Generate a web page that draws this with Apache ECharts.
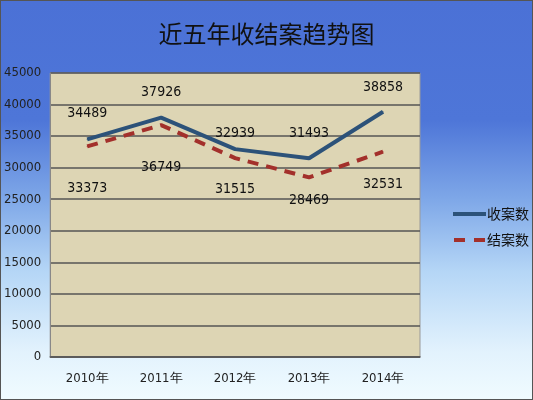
<!DOCTYPE html>
<html>
<head>
<meta charset="UTF-8">
<title>近五年收结案趋势图</title>
<script type="text/javascript" src="https://cdn.jsdelivr.net/npm/echarts@6/dist/echarts.min.js"></script>
<style type="text/css">
	html, body { margin: 0; padding: 0; }
	#main {
		width: 531px; height: 398px;
		border: 1px solid #555;
		background: linear-gradient(to bottom, #4b71d6 0%, #4e76d8 30%, #7fa8e8 50%, #b5d6f6 68%, #e2f2fd 88%, #f0fbff 100%);
	}
</style>
</head>
<body>
<div id="main"></div>
<script type="text/javascript">
	// 数据
	var years = ['2010年', '2011年', '2012年', '2013年', '2014年'];
	var receivedCases = [34489, 37926, 32939, 31493, 38858];   // 收案数
	var closedCases = [33373, 36749, 31515, 28469, 32531];     // 结案数
	var seriesNames = ['收案数', '结案数'];

	// 标签距离（像素）
	var receivedLabelGap = [18, 18, 8, 17, 17];
	var closedLabelGap = [34, 35, 24, 16, 25];

	function buildData(values, gaps) {
		var arr = [];
		for (var i = 0; i < values.length; i++) {
			arr.push({ value: values[i], label: { distance: gaps[i] } });
		}
		return arr;
	}

	var font = "Liberation Sans Narrow, DejaVu Sans Condensed, sans-serif";
	var myChart = echarts.init(document.getElementById('main'));
	var option = {
		animation: false,
		title: {
			text: '近五年收结案趋势图',
			left: 'center',
			top: 16,
			textStyle: { fontFamily: 'Noto Sans CJK SC', fontSize: 24, fontWeight: 'normal', color: '#111' }
		},
		legend: {
			orient: 'vertical',
			left: 447,
			top: 201,
			itemWidth: 33,
			itemHeight: 4,
			itemGap: 12,
			data: [
				{ name: seriesNames[0], icon: 'rect' },
				{ name: seriesNames[1], icon: 'path://M0,0H11V4H0Z M20,0H31V4H20Z' }
			],
			textStyle: { fontFamily: 'Noto Sans CJK SC', fontSize: 14, color: '#111', padding: [0, 0, 0, -4] }
		},
		grid: {
			left: 49, right: 112, top: 72, bottom: 42,
			show: true,
			backgroundColor: '#ddd5b4',
			borderColor: '#999',
			borderWidth: 1
		},
		xAxis: {
			type: 'category',
			data: years,
			axisLine: { lineStyle: { color: '#555', width: 1.5 } },
			axisTick: { show: false },
			axisLabel: { fontFamily: font, fontSize: 13, color: '#222', margin: 15 }
		},
		yAxis: {
			type: 'value',
			min: 0,
			max: 45000,
			interval: 5000,
			axisLine: { show: true, lineStyle: { color: '#888' } },
			axisTick: { show: false },
			axisLabel: { fontFamily: font, fontSize: 13, color: '#222', margin: 9, formatter: function (v) { return String(v); } },
			splitLine: { lineStyle: { color: '#555', width: 1.5 } }
		},
		series: [{
			name: seriesNames[0],
			type: 'line',
			data: buildData(receivedCases, receivedLabelGap),
			symbol: 'circle',
			symbolSize: 1,
			itemStyle: { color: '#2c5279' },
			lineStyle: { width: 4, color: '#2c5279' },
			label: { show: true, position: 'top', fontFamily: font, fontSize: 14, color: '#111' }
		}, {
			name: seriesNames[1],
			type: 'line',
			data: buildData(closedCases, closedLabelGap),
			symbol: 'circle',
			symbolSize: 1,
			itemStyle: { color: '#a3302b' },
			lineStyle: { width: 4, color: '#a3302b', type: [11, 8] },
			label: { show: true, position: 'bottom', fontFamily: font, fontSize: 14, color: '#111' }
		}]
	};
	myChart.setOption(option);
</script>
</body>
</html>
